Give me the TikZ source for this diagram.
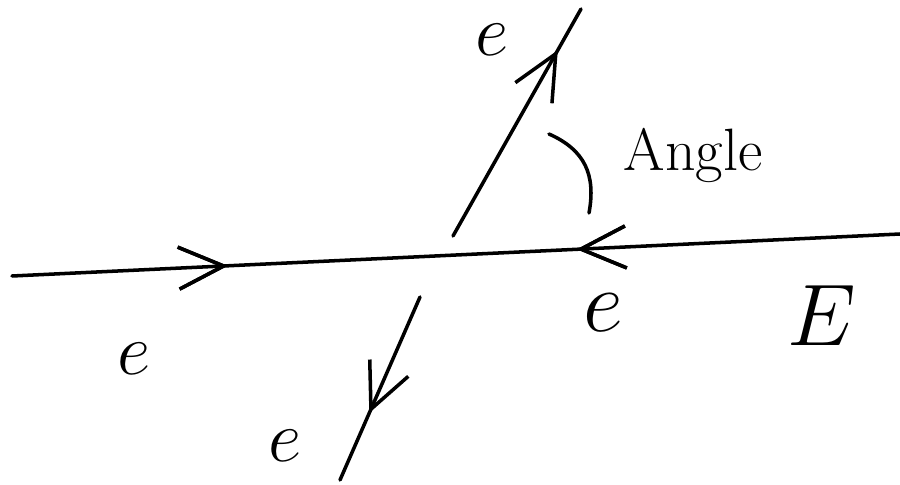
\documentclass[tikz,border=0pt]{standalone}
\usepackage{tikz}
\usetikzlibrary{arrows.meta,decorations.markings}

\begin{document}
\begin{tikzpicture}[
    x=0.01cm, y=-0.01cm,
    wire/.style={draw, line width=1pt, line cap=round},
    barb/.tip={Straight Barb[length=4.5mm, width=4.2mm, line width=1pt]},
    fwd/.style={postaction={decorate}, decoration={markings,
        mark=at position #1 with {\arrow{barb}}}},
    bwd/.style={postaction={decorate}, decoration={markings,
        mark=at position #1 with {\arrowreversed{barb}}}},
    lbl/.style={inner sep=0pt, font=\fontsize{20}{20}\selectfont}
]
\useasboundingbox (0,0) rectangle (900,485);

% end points of the strokes
\coordinate (lft) at (12,276);
\coordinate (rgt) at (900,234);
\coordinate (upA) at (453,236);
\coordinate (upB) at (581,9);
\coordinate (dnA) at (420,297);
\coordinate (dnB) at (340,480);
\coordinate (angA) at (549,134);
\coordinate (angB) at (589,213);

% main line, with the two incoming e
\draw[wire, fwd=0.243, bwd=0.636] (lft) -- (rgt);
% outgoing e, up and down
\draw[wire, fwd=0.82] (upA) -- (upB);
\draw[wire, fwd=0.634] (dnA) -- (dnB);
% angle mark
\draw[wire] (angA) .. controls (585,150) and (596,175) .. (angB);

\node[lbl] (eUp) at (492,40) {$e$};
\node[lbl] (eLeft) at (134,359) {$e$};
\node[lbl] (eDown) at (285,446) {$e$};
\node[lbl, font=\fontsize{24}{24}\selectfont] (eRight) at (603,313) {$e$};
\node[lbl, font=\fontsize{17}{17}\selectfont] (angle) at (693,155) {Angle};
\node[lbl, font=\fontsize{25}{25}\selectfont] (field) at (822,316) {$E$};
\end{tikzpicture}
\end{document}
